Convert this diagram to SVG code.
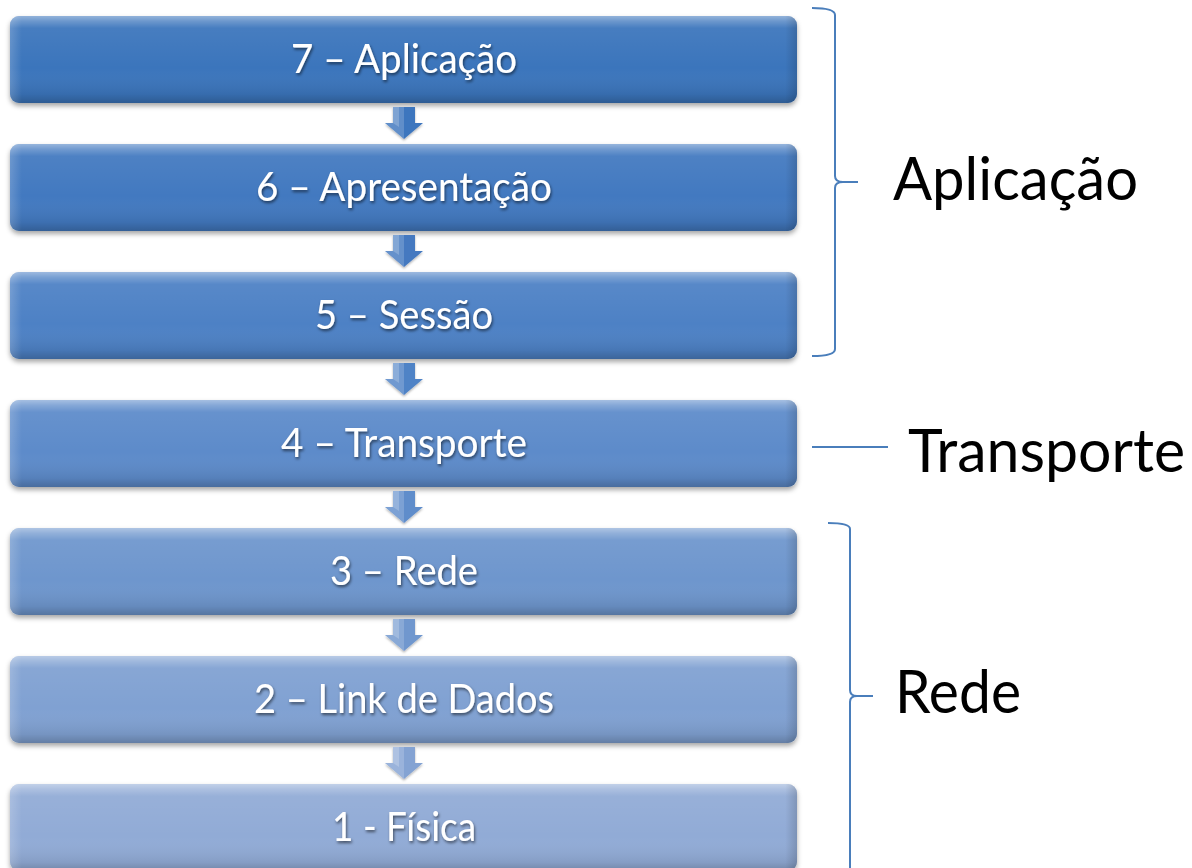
<svg xmlns="http://www.w3.org/2000/svg" width="1192" height="868" viewBox="0 0 1192 868">
  <defs>
    <style>
      .lbl { font-family: Lato, "Open Sans", "Liberation Sans", sans-serif; font-size: 40px; fill: #ffffff; text-anchor: middle; }
      .side { font-family: Lato, "Open Sans", "Liberation Sans", sans-serif; font-size: 60px; fill: #000000; }
      .brace { fill: none; stroke: #4a7ebb; stroke-width: 2; }
    </style>
    <!-- glossy overlay shared by every layer box -->
    <linearGradient id="gloss" x1="0" y1="0" x2="0" y2="1">
      <stop offset="0" stop-color="#ffffff" stop-opacity="0.45"/>
      <stop offset="0.06" stop-color="#ffffff" stop-opacity="0.25"/>
      <stop offset="0.14" stop-color="#ffffff" stop-opacity="0.06"/>
      <stop offset="0.6" stop-color="#ffffff" stop-opacity="0"/>
      <stop offset="0.9" stop-color="#000000" stop-opacity="0.08"/>
      <stop offset="1" stop-color="#000000" stop-opacity="0.22"/>
    </linearGradient>
    <linearGradient id="sideShade" x1="0" y1="0" x2="1" y2="0">
      <stop offset="0" stop-color="#ffffff" stop-opacity="0.18"/>
      <stop offset="0.015" stop-color="#ffffff" stop-opacity="0"/>
      <stop offset="0.985" stop-color="#000000" stop-opacity="0"/>
      <stop offset="1" stop-color="#000000" stop-opacity="0.15"/>
    </linearGradient>
    <filter id="boxShadow" x="-5%" y="-20%" width="110%" height="150%">
      <feDropShadow dx="0" dy="3" stdDeviation="2.5" flood-color="#000" flood-opacity="0.35"/>
    </filter>
    <filter id="txtShadow" x="-10%" y="-30%" width="120%" height="160%">
      <feDropShadow dx="1" dy="2" stdDeviation="1.5" flood-color="#000" flood-opacity="0.55"/>
    </filter>
    <filter id="arrowShadow" x="-30%" y="-30%" width="160%" height="160%">
      <feDropShadow dx="0" dy="1.5" stdDeviation="1.2" flood-color="#000" flood-opacity="0.3"/>
    </filter>
    <!-- down arrow: shaft then head, lighter left face -->
    <g id="arrowShape">
      <polygon points="-11,0 11,0 11,16 19,16 0,32 -19,16 -11,16"/>
    </g>
  </defs>

  <rect width="1192" height="868" fill="#ffffff"/>

  <!-- layer boxes -->
  <g id="layer7">
    <rect x="10" y="16" width="787" height="87" rx="9" fill="#3b74bc" filter="url(#boxShadow)"/>
    <rect x="10" y="16" width="787" height="87" rx="9" fill="url(#gloss)"/>
    <rect x="10" y="16" width="787" height="87" rx="9" fill="url(#sideShade)"/>
    <text class="lbl" x="404" y="73" textLength="226" lengthAdjust="spacingAndGlyphs" filter="url(#txtShadow)">7 – Aplicação</text>
  </g>
  <g id="layer6">
    <rect x="10" y="144" width="787" height="87" rx="9" fill="#4279c0" filter="url(#boxShadow)"/>
    <rect x="10" y="144" width="787" height="87" rx="9" fill="url(#gloss)"/>
    <rect x="10" y="144" width="787" height="87" rx="9" fill="url(#sideShade)"/>
    <text class="lbl" x="404" y="201" textLength="296" lengthAdjust="spacingAndGlyphs" filter="url(#txtShadow)">6 – Apresentação</text>
  </g>
  <g id="layer5">
    <rect x="10" y="272" width="787" height="87" rx="9" fill="#4e81c5" filter="url(#boxShadow)"/>
    <rect x="10" y="272" width="787" height="87" rx="9" fill="url(#gloss)"/>
    <rect x="10" y="272" width="787" height="87" rx="9" fill="url(#sideShade)"/>
    <text class="lbl" x="404" y="329" textLength="178" lengthAdjust="spacingAndGlyphs" filter="url(#txtShadow)">5 – Sessão</text>
  </g>
  <g id="layer4">
    <rect x="10" y="400" width="787" height="87" rx="9" fill="#5d8bca" filter="url(#boxShadow)"/>
    <rect x="10" y="400" width="787" height="87" rx="9" fill="url(#gloss)"/>
    <rect x="10" y="400" width="787" height="87" rx="9" fill="url(#sideShade)"/>
    <text class="lbl" x="404" y="457" textLength="246" lengthAdjust="spacingAndGlyphs" filter="url(#txtShadow)">4 – Transporte</text>
  </g>
  <g id="layer3">
    <rect x="10" y="528" width="787" height="87" rx="9" fill="#6e96cd" filter="url(#boxShadow)"/>
    <rect x="10" y="528" width="787" height="87" rx="9" fill="url(#gloss)"/>
    <rect x="10" y="528" width="787" height="87" rx="9" fill="url(#sideShade)"/>
    <text class="lbl" x="404" y="585" textLength="148" lengthAdjust="spacingAndGlyphs" filter="url(#txtShadow)">3 – Rede</text>
  </g>
  <g id="layer2">
    <rect x="10" y="656" width="787" height="87" rx="9" fill="#80a1d2" filter="url(#boxShadow)"/>
    <rect x="10" y="656" width="787" height="87" rx="9" fill="url(#gloss)"/>
    <rect x="10" y="656" width="787" height="87" rx="9" fill="url(#sideShade)"/>
    <text class="lbl" x="404" y="713" textLength="300" lengthAdjust="spacingAndGlyphs" filter="url(#txtShadow)">2 – Link de Dados</text>
  </g>
  <g id="layer1">
    <rect x="10" y="784" width="787" height="87" rx="9" fill="#91abd6" filter="url(#boxShadow)"/>
    <rect x="10" y="784" width="787" height="87" rx="9" fill="url(#gloss)"/>
    <rect x="10" y="784" width="787" height="87" rx="9" fill="url(#sideShade)"/>
    <text class="lbl" x="404" y="841" textLength="144" lengthAdjust="spacingAndGlyphs" filter="url(#txtShadow)">1 - Física</text>
  </g>

  <!-- connectors: downward arrows between layers -->
  <g id="connectors">
    <g transform="translate(404,107)" filter="url(#arrowShadow)">
      <use href="#arrowShape" fill="#3d76be"/>
      <polygon points="-11,0 0,0 0,32 -19,16 -11,16" fill="#ffffff" opacity="0.18"/>
      <polygon points="-11,0 -5,0 -5,20 -11,16" fill="#ffffff" opacity="0.2"/>
    </g>
    <g transform="translate(404,235)" filter="url(#arrowShadow)">
      <use href="#arrowShape" fill="#4479c0"/>
      <polygon points="-11,0 0,0 0,32 -19,16 -11,16" fill="#ffffff" opacity="0.18"/>
      <polygon points="-11,0 -5,0 -5,20 -11,16" fill="#ffffff" opacity="0.2"/>
    </g>
    <g transform="translate(404,363)" filter="url(#arrowShadow)">
      <use href="#arrowShape" fill="#5083c6"/>
      <polygon points="-11,0 0,0 0,32 -19,16 -11,16" fill="#ffffff" opacity="0.18"/>
      <polygon points="-11,0 -5,0 -5,20 -11,16" fill="#ffffff" opacity="0.2"/>
    </g>
    <g transform="translate(404,491)" filter="url(#arrowShadow)">
      <use href="#arrowShape" fill="#5f8dcb"/>
      <polygon points="-11,0 0,0 0,32 -19,16 -11,16" fill="#ffffff" opacity="0.18"/>
      <polygon points="-11,0 -5,0 -5,20 -11,16" fill="#ffffff" opacity="0.2"/>
    </g>
    <g transform="translate(404,619)" filter="url(#arrowShadow)">
      <use href="#arrowShape" fill="#7097ce"/>
      <polygon points="-11,0 0,0 0,32 -19,16 -11,16" fill="#ffffff" opacity="0.18"/>
      <polygon points="-11,0 -5,0 -5,20 -11,16" fill="#ffffff" opacity="0.2"/>
    </g>
    <g transform="translate(404,747)" filter="url(#arrowShadow)">
      <use href="#arrowShape" fill="#84a3d3"/>
      <polygon points="-11,0 0,0 0,32 -19,16 -11,16" fill="#ffffff" opacity="0.18"/>
      <polygon points="-11,0 -5,0 -5,20 -11,16" fill="#ffffff" opacity="0.2"/>
    </g>
  </g>

  <!-- grouping braces and their labels -->
  <g id="group-aplicacao">
    <path class="brace" d="M812,8 Q835,8 835,15 L835,176 Q835,182 843,182 L858,182 M843,182 Q835,182 835,188 L835,349 Q835,356 812,356"/>
    <text class="side" x="893" y="200" textLength="245" lengthAdjust="spacingAndGlyphs">Aplicação</text>
  </g>
  <g id="group-transporte">
    <line x1="812" y1="447" x2="888" y2="447" stroke="#4a7ebb" stroke-width="2"/>
    <text class="side" x="908" y="472" textLength="277" lengthAdjust="spacingAndGlyphs">Transporte</text>
  </g>
  <g id="group-rede">
    <path class="brace" d="M828,523 Q850,523 850,529 L850,690 Q850,696 857,696 L873,696 M857,696 Q850,696 850,702 L850,868"/>
    <text class="side" x="895" y="713" textLength="126" lengthAdjust="spacingAndGlyphs">Rede</text>
  </g>
</svg>
